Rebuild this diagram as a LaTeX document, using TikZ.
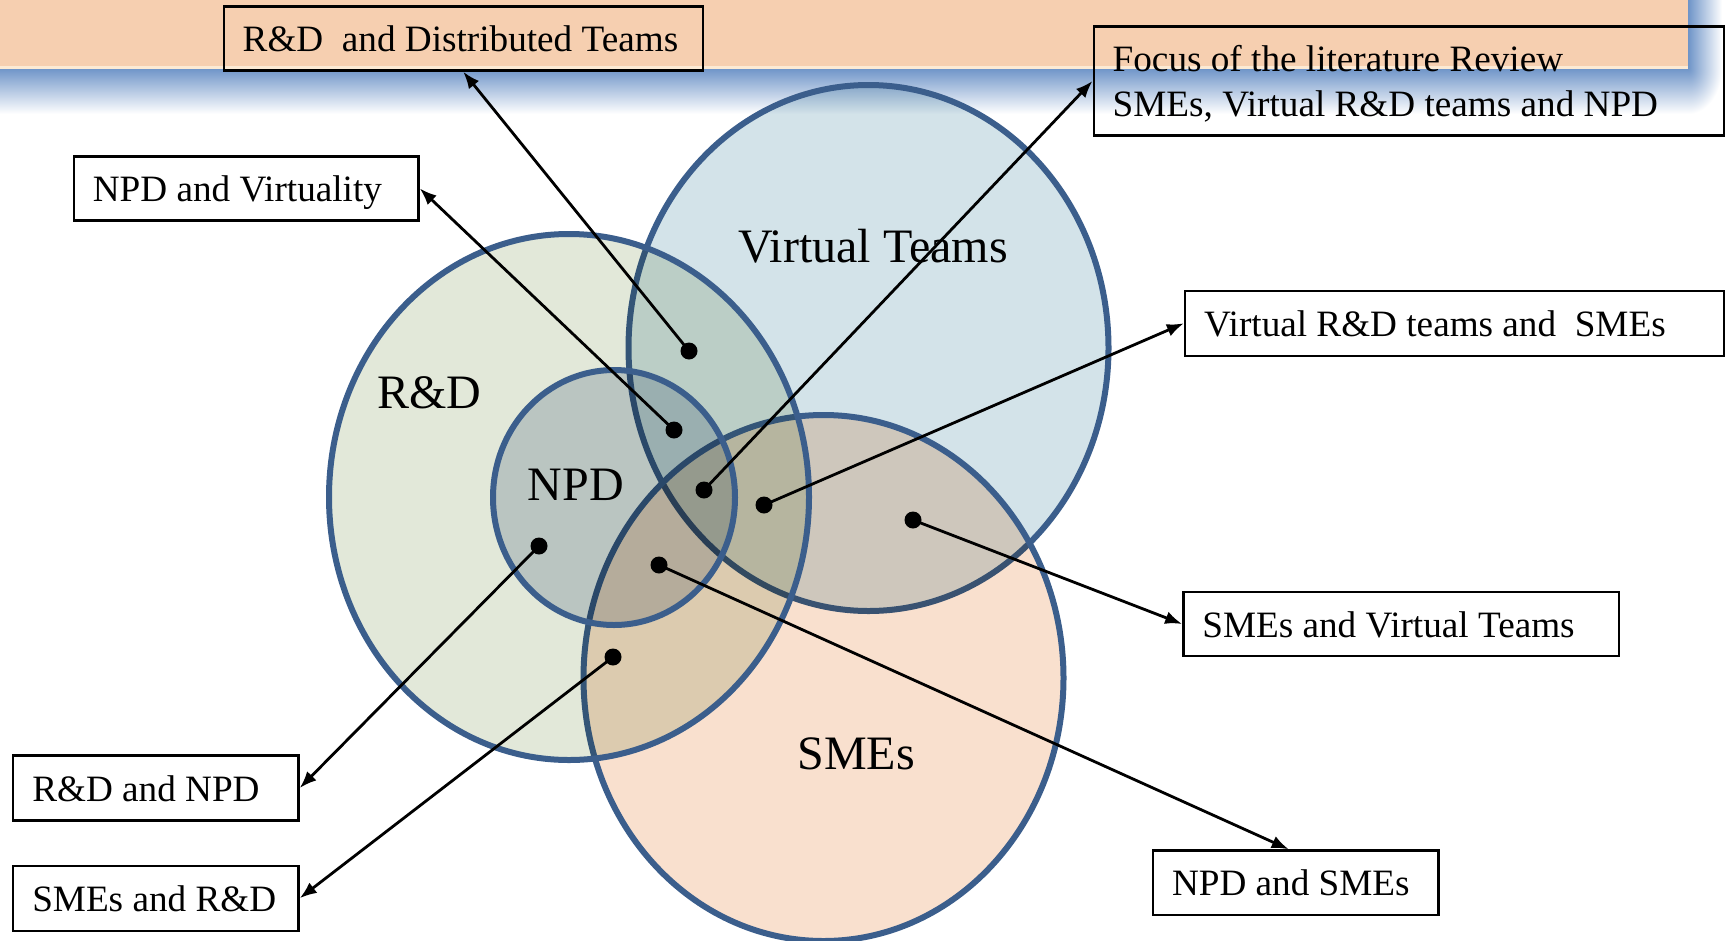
\documentclass[tikz,border=0pt]{standalone}
\usepackage{fontspec}
\setmainfont{Liberation Serif}
\usetikzlibrary{arrows.meta}
\definecolor{peach}{RGB}{246,207,176}
\definecolor{peachline}{RGB}{252,234,212}
\definecolor{shadowblue}{RGB}{110,148,200}
\definecolor{vtfill}{RGB}{211,227,233}
\definecolor{smefill}{RGB}{249,224,206}
\definecolor{rdfill}{RGB}{226,232,217}
\definecolor{npdfill}{RGB}{210,217,227}
\definecolor{ringblue}{RGB}{59,94,140}
\begin{document}
\begin{tikzpicture}[x=1pt,y=-1pt,
  ringfill/.style={fill=#1, blend mode=multiply},
  ring/.style={draw=ringblue, line width=6pt},
  biglabel/.style={font=\fontsize{48}{56}\selectfont, inner sep=0pt},
  lbox/.style={draw=black, line width=2.4pt, inner sep=0pt},
  boxtext/.style={anchor=base west, inner sep=0pt, font=\fontsize{37.2}{45}\selectfont},
  conn/.style={draw=black, line width=2.8pt, -{Latex[length=17pt,width=13pt]}},
  dotmark/.style={fill=black}]
\useasboundingbox (0,0) rectangle (1727,940);
% banner with shadow
\shade[top color=shadowblue, bottom color=white] (0,68) rectangle (1688,114);
\shade[left color=shadowblue, right color=white] (1688,0) rectangle (1722,68);
\begin{scope}
  \clip (1688,68) rectangle (1722,114);
  \shade[inner color=shadowblue, outer color=white] (1654,22) rectangle (1722,114);
\end{scope}
\fill[peach] (0,0) rectangle (1688,68);
\fill[peachline] (0,66) rectangle (1688,68.5);
% circles
\path[ringfill=vtfill] (868.5,348) ellipse [x radius=240, y radius=263];
\path[ring] (868.5,348) ellipse [x radius=240, y radius=263];
\path[ringfill=smefill] (823.5,678) ellipse [x radius=240, y radius=263];
\path[ring] (823.5,678) ellipse [x radius=240, y radius=263];
\path[ringfill=rdfill] (569,497) ellipse [x radius=240, y radius=263];
\path[ring] (569,497) ellipse [x radius=240, y radius=263];
\path[ringfill=npdfill] (614,497.5) ellipse [x radius=121, y radius=127.5];
\path[ring] (614,497.5) ellipse [x radius=121, y radius=127.5];
% circle labels
\node[biglabel] (lVT) at (873,246) {Virtual Teams};
\node[biglabel] (lRD) at (429.5,393) {R\&D};
\node[biglabel] (lNPD) at (576,485) {NPD};
\node[biglabel] (lSME) at (856,754) {SMEs};
% boxes
\node[lbox, minimum width=479pt, minimum height=64pt] (bRDDist) at (463.2,38.5) {};
\node[lbox, minimum width=630pt, minimum height=109pt] (bFocus) at (1408.7,81) {};
\node[lbox, minimum width=344.7pt, minimum height=64pt] (bNPDVirt) at (246.2,188.4) {};
\node[lbox, minimum width=538.7pt, minimum height=65pt] (bVRDSME) at (1454.4,323.3) {};
\node[lbox, minimum width=435.7pt, minimum height=64pt] (bSMEVT) at (1401.2,624) {};
\node[lbox, minimum width=285.3pt, minimum height=65pt] (bRDNPD) at (155.9,788) {};
\node[lbox, minimum width=285.3pt, minimum height=65pt] (bSMERD) at (155.9,898.2) {};
\node[lbox, minimum width=285.4pt, minimum height=64.5pt] (bNPDSME) at (1295.7,882.7) {};
% box texts
\node[boxtext] (tRDDist) at ([xshift=20pt,yshift=-13pt]bRDDist.west) {R\&D\ \ and Distributed Teams};
\node[boxtext] (tFocusA) at ([xshift=20pt,yshift=9.5pt]bFocus.west) {Focus of the literature Review};
\node[boxtext] (tFocusB) at ([xshift=20pt,yshift=-35.5pt]bFocus.west) {SMEs, Virtual R\&D teams and NPD};
\node[boxtext] (tNPDVirt) at ([xshift=20pt,yshift=-13pt]bNPDVirt.west) {NPD and Virtuality};
\node[boxtext] (tVRDSME) at ([xshift=20pt,yshift=-13pt]bVRDSME.west) {Virtual R\&D teams and\ \ SMEs};
\node[boxtext] (tSMEVT) at ([xshift=20pt,yshift=-13pt]bSMEVT.west) {SMEs and Virtual Teams};
\node[boxtext] (tRDNPD) at ([xshift=20pt,yshift=-13pt]bRDNPD.west) {R\&D and NPD};
\node[boxtext] (tSMERD) at ([xshift=20pt,yshift=-13pt]bSMERD.west) {SMEs and R\&D};
\node[boxtext] (tNPDSME) at ([xshift=20pt,yshift=-13pt]bNPDSME.west) {NPD and SMEs};
% dots
\coordinate (d1) at (689,351);
\coordinate (d2) at (674,430);
\coordinate (d3) at (704,490);
\coordinate (d4) at (764,505);
\coordinate (d5) at (913,520);
\coordinate (d6) at (659,565);
\coordinate (d7) at (539,546);
\coordinate (d8) at (613,657);
\foreach \d in {d1,d2,d3,d4,d5,d6,d7,d8} {\fill[dotmark] (\d) circle[radius=8.5];}
% connectors
\draw[conn] (d1) -- (bRDDist.south);
\draw[conn] (d2) -- (bNPDVirt.east);
\draw[conn] (d3) -- (bFocus.west);
\draw[conn] (d4) -- (bVRDSME.west);
\draw[conn] (d5) -- (bSMEVT.west);
\draw[conn] (d6) -- ([xshift=-7pt]bNPDSME.north);
\draw[conn] (d7) -- (bRDNPD.east);
\draw[conn] (d8) -- (bSMERD.east);
\end{tikzpicture}
\end{document}
